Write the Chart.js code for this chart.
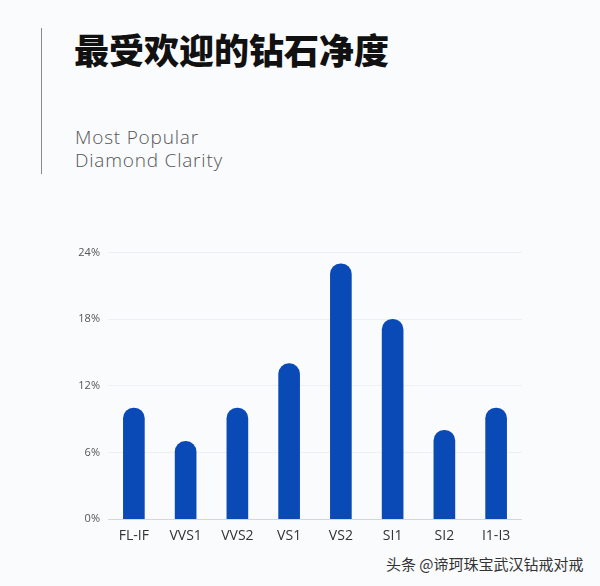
<!DOCTYPE html>
<html>
<head>
<meta charset="utf-8">
<script src="https://cdn.jsdelivr.net/npm/chart.js@4"></script>
<style>
  html, body { margin: 0; padding: 0; background: #fafbfc; }
  body { width: 600px; height: 586px; position: relative; overflow: hidden; }
  .rule { position: absolute; left: 41px; top: 28px; width: 1px; height: 146px; background: #8a8a8a; }
  .title { position: absolute; left: 74px; top: 23px; font-family: "Noto Sans CJK SC"; font-weight: 900; font-size: 35px; color: #111; }
  .sub { position: absolute; left: 75px; top: 126px; font-family: "Open Sans"; font-weight: 300; font-size: 19px; line-height: 23px; letter-spacing: 0.8px; color: #555; }
  .mark { position: absolute; left: 386px; top: 553px; font-family: "Noto Sans CJK SC"; font-size: 15px; color: #333; }
  .box { position: absolute; left: 0; top: 238px; width: 522px; height: 314px; }
</style>
</head>
<body>
<div class="rule"></div>
<div class="title">最受欢迎的钻石净度</div>
<div class="sub">Most Popular<br>Diamond Clarity</div>
<div class="box"><canvas id="clarityChart"></canvas></div>
<div class="mark">头条 @谛珂珠宝武汉钻戒对戒</div>
<script>
const clarities = ['FL-IF', 'VVS1', 'VVS2', 'VS1', 'VS2', 'SI1', 'SI2', 'I1-I3'];
const shares = [10, 7, 10, 14, 23, 18, 8, 10];
const yTicks = [0, 6, 12, 18, 24];

document.addEventListener('DOMContentLoaded', () => {
    const ctx = document.getElementById('clarityChart').getContext('2d');
    const clarityChart = new Chart(ctx, {
        type: 'bar',
        data: {
            labels: clarities,
            datasets: [{
                data: shares,
                backgroundColor: '#0a4ab6',
                barThickness: 21,
                borderRadius: 11,
                borderSkipped: 'start',
            }]
        },
        options: {
            responsive: true,
            maintainAspectRatio: false,
            animation: false,
            layout: { padding: { top: 5, right: 0, left: 0, bottom: 0 } },
            plugins: { legend: { display: false }, tooltip: { enabled: false } },
            scales: {
                x: {
                    grid: { display: false, drawTicks: false },
                    border: { display: true, color: '#d4d6da' },
                    ticks: { color: '#333', padding: 8, font: { family: 'Open Sans', size: 14 } }
                },
                y: {
                    min: 0,
                    max: 24,
                    afterFit: (axis) => { axis.width = 108; },
                    afterBuildTicks: (axis) => { axis.ticks = yTicks.map(v => ({ value: v })); },
                    grid: { color: '#eef0f3', drawTicks: false },
                    border: { display: false },
                    ticks: {
                        color: '#555',
                        padding: 8,
                        font: { family: 'Open Sans', size: 11 },
                        callback: (v) => v + '%'
                    }
                }
            }
        }
    });
});
</script>
</body>
</html>
